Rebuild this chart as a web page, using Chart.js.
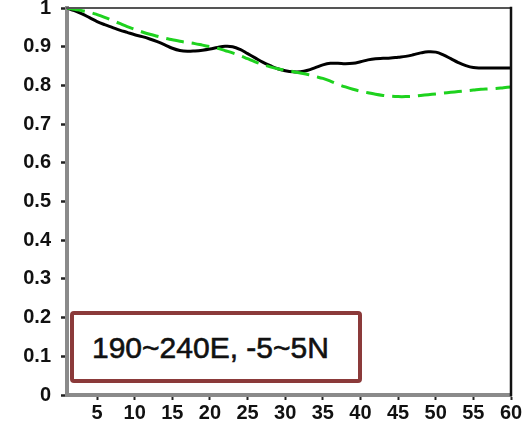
<!DOCTYPE html>
<html>
<head>
<meta charset="utf-8">
<script src="https://cdn.jsdelivr.net/npm/chart.js@4/dist/chart.umd.min.js"></script>
<style>
  html, body { margin: 0; padding: 0; background: #fff; }
  #wrap { position: relative; width: 530px; height: 422px; }
  #region {
    position: absolute; left: 70px; top: 311px; width: 266px; height: 64px;
    border: 4px solid #8b3a3a; border-radius: 4px; background: #fff;
    font-family: "Liberation Sans", Arial, sans-serif; font-size: 30px;
    color: #111; line-height: 66px; padding-left: 18px; box-sizing: content-box;
    -webkit-text-stroke: 0.6px #111;
  }
</style>
</head>
<body>
<div id="wrap">
  <canvas id="c" width="530" height="422"></canvas>
  <div id="region">190~240E, -5~5N</div>
</div>
<script>
// lead time (days)
const days = Array.from({ length: 60 }, (_, i) => i + 1);

// solid black curve
const solidSeries = [
  1.000, 0.993, 0.985, 0.975, 0.965, 0.957, 0.950, 0.943, 0.937, 0.931,
  0.926, 0.920, 0.913, 0.905, 0.896, 0.890, 0.888, 0.889, 0.891, 0.894,
  0.898, 0.901, 0.900, 0.893, 0.882, 0.871, 0.860, 0.851, 0.843, 0.838,
  0.835, 0.835, 0.839, 0.846, 0.853, 0.857, 0.857, 0.856, 0.857, 0.861,
  0.866, 0.869, 0.870, 0.871, 0.873, 0.875, 0.879, 0.884, 0.887, 0.886,
  0.879, 0.869, 0.859, 0.851, 0.846, 0.845, 0.845, 0.845, 0.845, 0.845
];

// dashed green curve
const dashedSeries = [
  1.000, 0.997, 0.993, 0.989, 0.983, 0.976, 0.968, 0.960, 0.952, 0.945,
  0.938, 0.932, 0.927, 0.922, 0.918, 0.914, 0.911, 0.908, 0.904, 0.900,
  0.896, 0.890, 0.884, 0.877, 0.869, 0.861, 0.854, 0.848, 0.843, 0.839,
  0.836, 0.832, 0.828, 0.823, 0.818, 0.811, 0.803, 0.796, 0.790, 0.785,
  0.781, 0.777, 0.774, 0.772, 0.771, 0.771, 0.772, 0.774, 0.776, 0.778,
  0.780, 0.782, 0.784, 0.786, 0.788, 0.790, 0.791, 0.792, 0.794, 0.796
];

const xTicks = [5, 10, 15, 20, 25, 30, 35, 40, 45, 50, 55, 60];
const yTicks = [0, 0.1, 0.2, 0.3, 0.4, 0.5, 0.6, 0.7, 0.8, 0.9, 1];

const toPoints = (vals) => vals.map((v, i) => ({ x: days[i], y: v }));

// top and right frame lines
const frame = {
  id: 'frame',
  afterDraw(chart) {
    const { ctx, chartArea: a } = chart;
    ctx.save();
    ctx.lineCap = 'square';
    ctx.strokeStyle = '#555';
    ctx.lineWidth = 2;
    ctx.beginPath();
    ctx.moveTo(a.left, a.top);
    ctx.lineTo(a.right, a.top);
    ctx.stroke();
    ctx.strokeStyle = '#111';
    ctx.lineWidth = 2.5;
    ctx.beginPath();
    ctx.moveTo(a.right, a.top);
    ctx.lineTo(a.right, a.bottom);
    ctx.stroke();
    ctx.restore();
  }
};

const tickFont = { family: '"Liberation Sans", Arial, sans-serif', size: 20, weight: 'bold' };

new Chart(document.getElementById('c'), {
  type: 'line',
  data: {
    datasets: [
      {
        data: toPoints(dashedSeries),
        borderColor: '#1ed21e',
        borderWidth: 3,
        borderDash: [18, 8],
        tension: 0.4,
        pointRadius: 0
      },
      {
        data: toPoints(solidSeries),
        borderColor: '#000',
        borderWidth: 3,
        tension: 0.4,
        pointRadius: 0
      }
    ]
  },
  plugins: [frame],
  options: {
    responsive: false,
    animation: false,
    layout: { autoPadding: false, padding: { left: 0, right: 19, top: 8, bottom: 0 } },
    plugins: { legend: { display: false }, tooltip: { enabled: false } },
    elements: { line: { capBezierPoints: true } },
    scales: {
      x: {
        type: 'linear',
        min: 1,
        max: 60,
        afterBuildTicks(scale) { scale.ticks = xTicks.map(v => ({ value: v })); },
        afterFit(scale) {
          scale.height = 27;
          scale.paddingLeft = 0; scale.paddingRight = 0;
        },
        ticks: { color: '#111', font: tickFont, padding: 1, maxRotation: 0, autoSkip: false },
        grid: { drawOnChartArea: false, drawTicks: true, tickLength: 5, tickColor: '#222', tickWidth: 2 },
        border: { display: true, color: '#8a8a8a', width: 4 }
      },
      y: {
        min: 0,
        max: 1,
        afterBuildTicks(scale) { scale.ticks = yTicks.map(v => ({ value: v })); },
        afterFit(scale) {
          scale.width = 67;
          scale.paddingTop = 0; scale.paddingBottom = 0;
        },
        ticks: {
          color: '#111', font: tickFont, padding: 10, autoSkip: false,
          callback: (v) => String(Math.round(v * 10) / 10)
        },
        grid: { drawOnChartArea: false, drawTicks: true, tickLength: 6, tickColor: '#222', tickWidth: 2.5 },
        border: { display: true, color: '#8a8a8a', width: 4 }
      }
    }
  }
});
</script>
</body>
</html>
